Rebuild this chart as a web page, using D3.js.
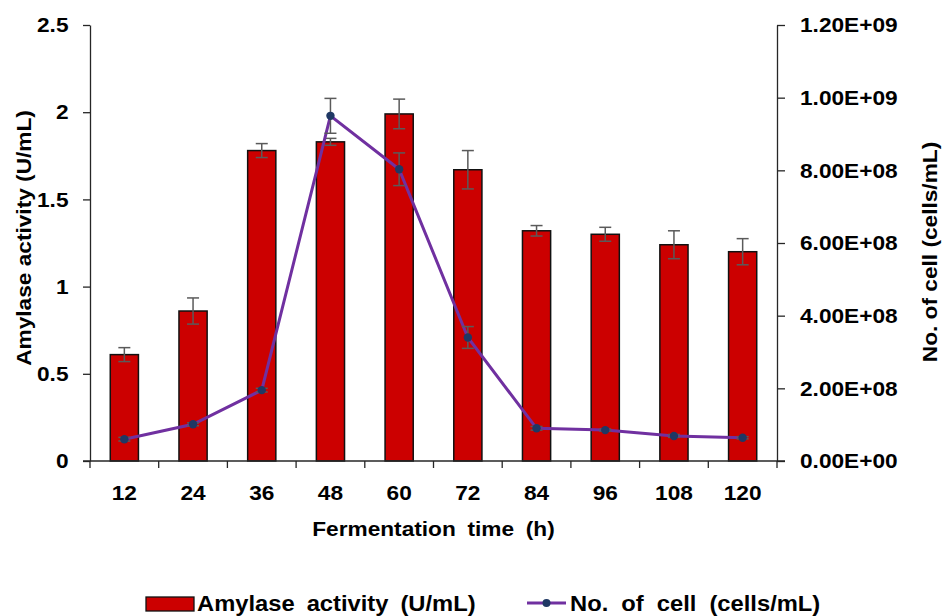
<!DOCTYPE html>
<html>
<head>
<meta charset="utf-8">
<script src="https://cdn.jsdelivr.net/npm/d3@7"></script>
<style>
  body { margin: 0; background: #fff; }
  svg text { font-family: "Liberation Sans", Arial, sans-serif; font-weight: bold; fill: #000; }
</style>
</head>
<body>
<div class="graph"></div>
<script>
// data
var hours = [12, 24, 36, 48, 60, 72, 84, 96, 108, 120];
var amylase = [0.61, 0.86, 1.78, 1.83, 1.99, 1.67, 1.32, 1.30, 1.24, 1.20];
var amylaseErr = [0.04, 0.075, 0.04, 0.02, 0.085, 0.11, 0.03, 0.04, 0.08, 0.075];
var cells = [6.0e7, 1.01e8, 1.95e8, 9.5e8, 8.03e8, 3.4e8, 9.0e7, 8.5e7, 6.9e7, 6.4e7];
var cellsErr = [5e6, 4e6, 5e6, 4.8e7, 4.5e7, 3.0e7, 5e6, 3e6, 4e6, 3e6];
var leftTicks = [0, 0.5, 1, 1.5, 2, 2.5];
var rightTicks = [0, 2e8, 4e8, 6e8, 8e8, 1e9, 1.2e9];

var width = 947, height = 616;
var margin = {top: 25, right: 170, bottom: 155, left: 90};
var stretch = 1.08; // text in the picture is a bit wider than plain Arial

var svg = d3.select("div.graph").append("svg")
    .attr("width", width)
    .attr("height", height);

var x = d3.scaleBand().domain(hours).range([margin.left, width - margin.right]).padding(0);
var yL = d3.scaleLinear().domain([0, 2.5]).range([height - margin.bottom, margin.top]);
var yR = d3.scaleLinear().domain([0, 1.2e9]).range([height - margin.bottom, margin.top]);

var barW = x.step() * 0.41;
var cx = function(i) { return x(hours[i]) + x.step() / 2; };

// 1.20E+09 style
var sci = function(v) {
  if (v === 0) return "0.00E+00";
  var e = Math.floor(Math.log10(v));
  var m = v / Math.pow(10, e);
  return m.toFixed(2) + "E" + (e < 0 ? "-" : "+") + String(Math.abs(e)).padStart(2, "0");
};

var stretchText = function(sel) {
  sel.each(function() {
    var t = d3.select(this);
    var tx = +t.attr("x") || 0, ty = +t.attr("y") || 0;
    t.attr("x", 0).attr("y", 0)
     .attr("transform", "translate(" + tx + "," + ty + ") scale(" + stretch + ",1)");
  });
};

// bars
svg.selectAll("rect.bar")
  .data(amylase)
  .enter().append("rect")
    .attr("class", "bar")
    .attr("x", function(d, i) { return cx(i) - barW / 2; })
    .attr("y", function(d) { return yL(d); })
    .attr("width", barW)
    .attr("height", function(d) { return yL(0) - yL(d); })
    .attr("fill", "#cc0000")
    .attr("stroke", "#111")
    .attr("stroke-width", 1.5);

var errBars = function(vals, errs, y, cap) {
  var g = svg.append("g").attr("stroke", "#5a5a5a").attr("stroke-width", 1.5);
  vals.forEach(function(v, i) {
    var c = cx(i);
    g.append("line").attr("x1", c).attr("x2", c).attr("y1", y(v - errs[i])).attr("y2", y(v + errs[i]));
    g.append("line").attr("x1", c - cap).attr("x2", c + cap).attr("y1", y(v + errs[i])).attr("y2", y(v + errs[i]));
    g.append("line").attr("x1", c - cap).attr("x2", c + cap).attr("y1", y(v - errs[i])).attr("y2", y(v - errs[i]));
  });
};

errBars(amylase, amylaseErr, yL, 6);

// cell count line
var line = d3.line()
  .x(function(d, i) { return cx(i); })
  .y(function(d) { return yR(d); });

svg.append("path")
  .datum(cells)
  .attr("d", line)
  .attr("fill", "none")
  .attr("stroke", "#7030a0")
  .attr("stroke-width", 3);

errBars(cells, cellsErr, yR, 6);

svg.selectAll("circle.pt")
  .data(cells)
  .enter().append("circle")
    .attr("class", "pt")
    .attr("cx", function(d, i) { return cx(i); })
    .attr("cy", function(d) { return yR(d); })
    .attr("r", 4.2)
    .attr("fill", "#1f3864");

// left axis
var axL = svg.append("g")
    .attr("transform", "translate(" + margin.left + ",0)")
    .call(d3.axisLeft(yL).tickValues(leftTicks).tickSize(7).tickPadding(14.5).tickSizeOuter(0)
      .tickFormat(d3.format("")));

// right axis
var axR = svg.append("g")
    .attr("transform", "translate(" + (width - margin.right) + ",0)")
    .call(d3.axisRight(yR).tickValues(rightTicks).tickSize(8).tickPadding(15).tickSizeOuter(0)
      .tickFormat(sci));

// x axis, labels centred in bands, ticks at band edges
var axX = svg.append("g")
    .attr("transform", "translate(0," + (height - margin.bottom) + ")")
    .call(d3.axisBottom(x).tickSize(0).tickPadding(24));

axX.select(".domain").attr("d", "M" + (margin.left - 7) + ",0H" + (width - margin.right + 8));
axX.selectAll("g.edge")
  .data(hours.map(function(h) { return x(h); }).concat([x.range()[1]]))
  .enter().append("line")
    .attr("x1", function(d) { return d; })
    .attr("x2", function(d) { return d; })
    .attr("y1", 0)
    .attr("y2", 7)
    .attr("stroke", "#262626")
    .attr("stroke-width", 1.3);

[axL, axR, axX].forEach(function(ax) {
  ax.selectAll(".domain, .tick line").attr("stroke", "#262626").attr("stroke-width", 1.3);
  ax.selectAll("text")
    .attr("font-size", 21)
    .attr("font-family", null)
    .call(stretchText);
});
axX.selectAll(".tick text").attr("dy", "0.71em");

// axis titles
svg.append("text")
  .attr("text-anchor", "middle")
  .attr("font-size", 21)
  .style("word-spacing", "5px")
  .attr("transform", "translate(" + ((margin.left + width - margin.right) / 2) + ",536) scale(" + stretch + ",1)")
  .text("Fermentation time (h)");

svg.append("text")
  .attr("text-anchor", "middle")
  .attr("font-size", 21)
  .attr("transform", "translate(31,238) rotate(-90) scale(" + stretch + ",1)")
  .text("Amylase activity (U/mL)");

svg.append("text")
  .attr("text-anchor", "middle")
  .attr("font-size", 21)
  .attr("transform", "translate(937,252) rotate(-90) scale(" + stretch + ",1)")
  .text("No. of cell (cells/mL)");

// legend
var leg = svg.append("g");
leg.append("rect")
  .attr("x", 146).attr("y", 597).attr("width", 48).attr("height", 14)
  .attr("fill", "#cc0000").attr("stroke", "#111").attr("stroke-width", 1.3);
leg.append("text")
  .attr("transform", "translate(197,611) scale(" + stretch + ",1)")
  .attr("font-size", 22)
  .style("word-spacing", "5px")
  .text("Amylase activity (U/mL)");

leg.append("line")
  .attr("x1", 527).attr("x2", 566).attr("y1", 603).attr("y2", 603)
  .attr("stroke", "#7030a0").attr("stroke-width", 3);
leg.append("circle")
  .attr("cx", 546.5).attr("cy", 603).attr("r", 4).attr("fill", "#1f3864");
leg.append("text")
  .attr("transform", "translate(570,611) scale(" + stretch + ",1)")
  .attr("font-size", 22)
  .style("word-spacing", "6px")
  .text("No. of cell (cells/mL)");
</script>
</body>
</html>
